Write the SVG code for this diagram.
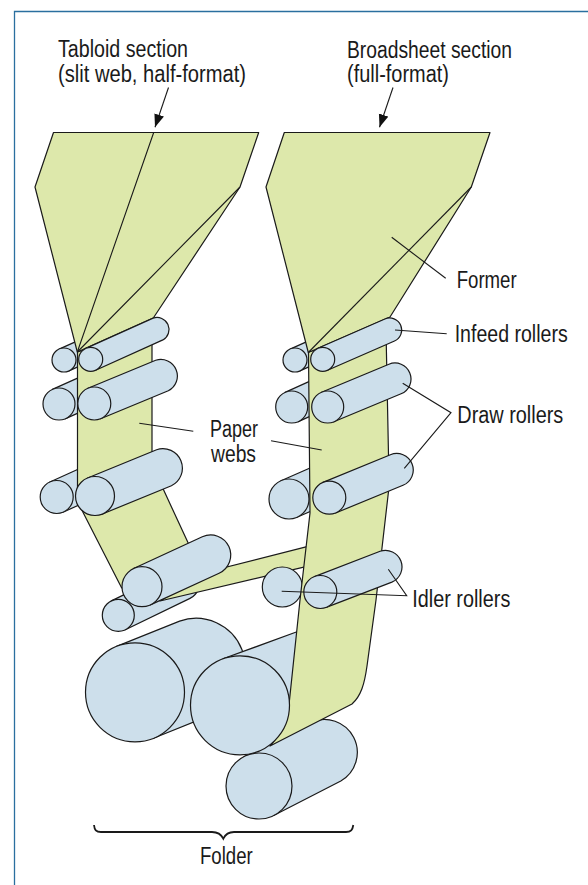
<svg xmlns="http://www.w3.org/2000/svg" width="588" height="885" viewBox="0 0 588 885">
<style>
.w{fill:#dde8ab;stroke:#1a1a1a;stroke-width:1.2;stroke-linejoin:round}
.r{fill:#cddfeb;stroke:#1a1a1a;stroke-width:1.2;stroke-linejoin:round}
.l{fill:none;stroke:#1a1a1a;stroke-width:1.1}
.t{font-family:"Liberation Sans",Arial,sans-serif;font-size:23px;fill:#1a1a1a}
</style>
<defs><marker id="a" markerUnits="userSpaceOnUse" markerWidth="14" markerHeight="14" refX="13" refY="5" orient="auto"><path d="M0 0L13 5L0 10Z" fill="#111"/></marker></defs>
<rect width="588" height="885" fill="#fff"/>
<path d="M14.5 885V11.500H588" fill="none" stroke="#2a6f9f" stroke-width="1.3"/>

<g id="folder-rollers">
<path class="r" d="M116.6 646.4L179.6 621.1A49.5 49.5 0 0 1 216.4 712.9L153.4 738.2Z"/><circle class="r" cx="135" cy="692.3" r="49.5"/>
<path class="r" d="M223 658.8L297 631.8L330 660L300 725L257 751.8Z"/>
<path class="r" d="M243.9 756.7L310.6 722.4A33 33 0 0 1 340.8 781L274.1 815.3Z"/><circle class="r" cx="259" cy="786" r="33"/>
</g>

<g id="tabloid-section">
<path class="r" d="M59.1 349.1L126.1 319.1A12 12 0 0 1 135.9 340.9L68.9 370.9Z"/><circle class="r" cx="64" cy="360" r="12"/>
<path class="r" d="M52.4 389.4L119.4 359.4A16 16 0 0 1 132.6 388.6L65.6 418.6Z"/><circle class="r" cx="59" cy="404" r="16"/>
<path class="r" d="M49.9 482L116.2 452A16.5 16.5 0 0 1 129.8 482L63.5 512Z"/><circle class="r" cx="56.7" cy="497" r="16.5"/>
<path class="r" d="M111.3 600.9L176 569.6A16 16 0 0 1 190 598.4L125.3 629.7Z"/><circle class="r" cx="118.3" cy="615.3" r="16"/>
<path class="w" d="M77.5 352L152 330V475L163.3 489.3L188.3 543.3L175 570L121.7 588L82.7 511.7L77.5 500Z"/>
<path class="w" d="M53.5 132.500H258.7L240 187L153.3 318L77.3 352L35 187Z"/>
<path class="l" d="M153.7 132.500L77.3 352L240 187"/>
<path class="r" d="M85.8 348.4L153.1 318.1A12 12 0 0 1 162.9 339.9L95.6 370.2Z"/><circle class="r" cx="90.7" cy="359.3" r="12"/>
<path class="r" d="M88 388.3L155.7 360.3A16.5 16.5 0 0 1 168.3 390.7L100.6 418.7Z"/><circle class="r" cx="94.3" cy="403.5" r="16.5"/>
<path class="r" d="M87.6 478L156.6 449.7A19.5 19.5 0 0 1 171.4 485.7L102.4 514Z"/><circle class="r" cx="95" cy="496" r="19.5"/>
</g>

<g id="crossover-web">
<path class="w" d="M160 601L207 572L307 546.7V566.3Z"/>
<path class="r" d="M133.6 568.5L202.3 536.8A20 20 0 0 1 219.1 573.2L150.4 604.9Z"/><circle class="r" cx="142" cy="586.7" r="20"/>
</g>

<g id="broadsheet-section">
<path class="r" d="M290.1 349.1L357.1 319.1A12 12 0 0 1 366.9 340.9L299.9 370.9Z"/><circle class="r" cx="295" cy="360" r="12"/>
<path class="r" d="M285.1 392.4L351.4 362.4A16 16 0 0 1 364.6 391.6L298.3 421.6Z"/><circle class="r" cx="291.7" cy="407" r="16"/>
<path class="r" d="M281 480.7L347 451.7A20 20 0 0 1 363 488.3L297 517.3Z"/><circle class="r" cx="289" cy="499" r="20"/>
<circle class="r" cx="282.3" cy="587" r="20"/>
<path class="w" d="M308.5 352L386 330L388.5 455V491.5L376 600L367 666C364.5 684 361 696 352 704L270 746C282 733 288 715 289.5 700L300 600L310 513Z"/>
<circle class="r" cx="240" cy="705.3" r="49.5"/>
<path class="w" d="M284.3 132.500H490L471.3 187L390 317L308.3 352.500L266 187Z"/>
<path class="l" d="M471.3 187L308.3 352.500"/>
<path class="r" d="M317.9 348.3L384.9 319A12 12 0 0 1 394.5 341L327.5 370.3Z"/><circle class="r" cx="322.7" cy="359.3" r="12"/>
<path class="r" d="M321.6 392.2L388.9 364.2A16 16 0 0 1 401.1 393.8L333.8 421.8Z"/><circle class="r" cx="327.7" cy="407" r="16"/>
<path class="r" d="M323 482.4L390.4 454.7A16.5 16.5 0 0 1 403 485.3L335.6 513Z"/><circle class="r" cx="329.3" cy="497.7" r="16.5"/>
<path class="r" d="M314.4 576.6L380.1 551.3A16.5 16.5 0 0 1 391.9 582.1L326.2 607.4Z"/><circle class="r" cx="320.3" cy="592" r="16.5"/>
</g>

<g id="connectors">
<path class="l" marker-end="url(#a)" d="M168.5 87.500L155 127.3"/>
<path class="l" marker-end="url(#a)" d="M393 87.500L379.5 127.3"/>
<path class="l" d="M391.7 237.3L445.7 278.3"/>
<path class="l" d="M395 330L446.7 333.7"/>
<path class="l" d="M402.7 383.3L451 412.7L404.3 468.3"/>
<path class="l" d="M139.3 423.3L193.3 431.3"/>
<path class="l" d="M271 440.7L321.7 450"/>
<path class="l" d="M388.3 569.3L406.7 595.7L281.7 591.3"/>
<path d="M94 825C94.5 830 96 832 101 832H212C218 832 221 834 223.3 838.7C225.5 834 228.500 832 234 832H346C351 832 352.500 830 353.300 825" fill="none" stroke="#1a1a1a" stroke-width="1.8"/>
</g>

<g id="labels">
<text class="t" x="58" y="57" textLength="130" lengthAdjust="spacingAndGlyphs">Tabloid section</text>
<text class="t" x="58" y="82" textLength="188" lengthAdjust="spacingAndGlyphs">(slit web, half-format)</text>
<text class="t" x="347" y="58" textLength="165" lengthAdjust="spacingAndGlyphs">Broadsheet section</text>
<text class="t" x="347" y="82" textLength="102" lengthAdjust="spacingAndGlyphs">(full-format)</text>
<text class="t" x="456.700" y="288" textLength="60" lengthAdjust="spacingAndGlyphs">Former</text>
<text class="t" x="454.700" y="342" textLength="113" lengthAdjust="spacingAndGlyphs">Infeed rollers</text>
<text class="t" x="457.300" y="423" textLength="106" lengthAdjust="spacingAndGlyphs">Draw rollers</text>
<text class="t" x="210" y="437" textLength="48" lengthAdjust="spacingAndGlyphs">Paper</text>
<text class="t" x="211" y="462" textLength="45" lengthAdjust="spacingAndGlyphs">webs</text>
<text class="t" x="412.300" y="607" textLength="98" lengthAdjust="spacingAndGlyphs">Idler rollers</text>
<text class="t" x="200" y="864" textLength="52.700" lengthAdjust="spacingAndGlyphs">Folder</text>
</g>
</svg>
